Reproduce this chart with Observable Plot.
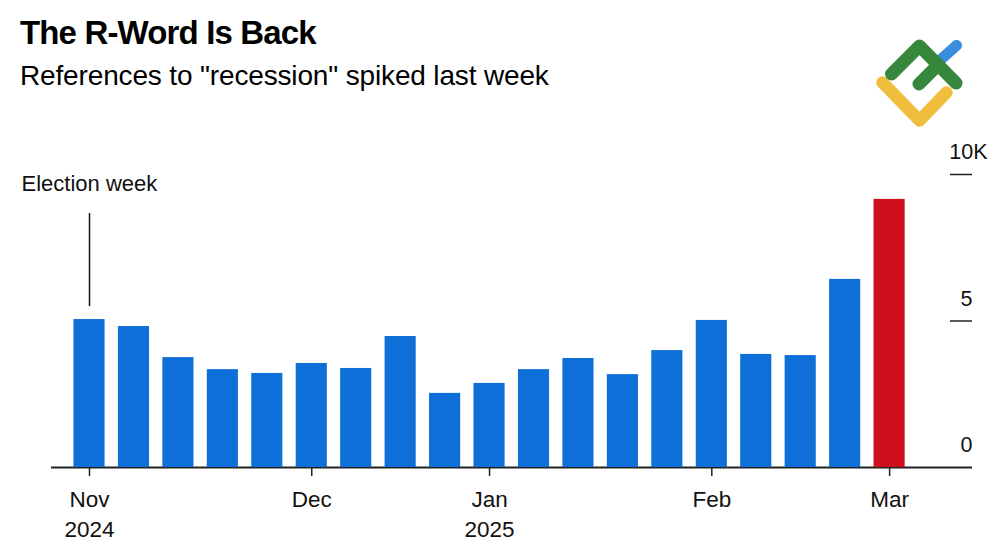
<!DOCTYPE html>
<html>
<head>
<meta charset="utf-8">
<script src="https://cdn.jsdelivr.net/npm/d3@7"></script>
<script src="https://cdn.jsdelivr.net/npm/@observablehq/plot@0.6"></script>
<style>
  html, body { margin: 0; padding: 0; background: #fff; width: 1000px; height: 545px; overflow: hidden; }
  body { position: relative; font-family: "Liberation Sans", Arial, sans-serif; color: #000; }
  #head { height: 120px; padding-left: 20px; box-sizing: border-box; }
  #title { position: absolute; left: 20px; top: 14px; font-size: 33px; font-weight: 700; letter-spacing: -0.85px; line-height: 38px; white-space: nowrap; }
  #subtitle { position: absolute; left: 20px; top: 59px; font-size: 28px; letter-spacing: -0.15px; line-height: 34px; white-space: nowrap; }
  #logo { position: absolute; left: 870px; top: 35px; z-index: 2; }
  #chart { position: absolute; left: 0; top: 120px; }
  svg { display: block; }
</style>
</head>
<body>
<div id="head">
  <div id="title">The R-Word Is Back</div>
  <div id="subtitle">References to "recession" spiked last week</div>
</div>
<svg id="logo" width="100" height="100" viewBox="870 35 100 100" fill="none" stroke-linecap="round" stroke-linejoin="round">
  <path d="M938 62 L956.5 45.5" stroke="#3a8ddc" stroke-width="11"/>
  <path d="M882.5 82.5 L919.5 120.5 L946.5 92.5" stroke="#efbe3c" stroke-width="12.5"/>
  <path d="M891.5 74 L919.5 46 L956 83" stroke="#36873c" stroke-width="13"/>
  <path d="M919 84 L938 65" stroke="#36873c" stroke-width="13"/>
</svg>
<div id="chart"></div>
<script>
const weeks = ["2024-11-01","2024-11-08","2024-11-15","2024-11-22","2024-11-29","2024-12-06","2024-12-13","2024-12-20","2024-12-27","2025-01-03","2025-01-10","2025-01-17","2025-01-24","2025-01-31","2025-02-07","2025-02-14","2025-02-21","2025-02-28","2025-03-07"];
const mentions = [5.05,4.81,3.75,3.34,3.21,3.55,3.38,4.47,2.53,2.87,3.34,3.72,3.17,3.99,5.02,3.86,3.82,6.42,9.15];
const monthTicks = ["2024-11-01","2024-12-06","2025-01-03","2025-02-07","2025-03-07"];
const monthLabels = ["Nov\n2024","Dec","Jan\n2025","Feb","Mar"];
const yTicks = [0,5,10];
const yLabels = ["0","5","10K"];
const electionWeek = "2024-11-01";
const electionSpan = [5.49,8.67];
const electionLabel = "Election week";
const electionLabelY = 9.69;
const latestWeek = "2025-03-07";
const BLUE = "#0f6fd8", RED = "#cf0f1b";

const table = weeks.map((w,i)=>({week:w,value:mentions[i]}));
const yRows = yTicks.map((v,i)=>({v,label:yLabels[i]}));

const plot = Plot.plot({
  width: 1000,
  height: 425,
  marginTop: 54,
  marginBottom: 78,
  marginLeft: 51,
  marginRight: 28,
  style: {fontFamily: '"Liberation Sans", Arial, sans-serif', background: "#fff", color: "#000"},
  x: {type: "band", domain: weeks, paddingInner: 0.3, paddingOuter: 1.01, align: 0.25, round: false},
  y: {domain: [0,10], axis: null},
  marks: [
    Plot.ruleY([0], {stroke: "#222", strokeWidth: 2}),
    Plot.barY(table, {x: "week", y: "value", fill: d => d.week === latestWeek ? RED : BLUE}),
    Plot.ruleY(yTicks.filter(v => v > 0), {stroke: "#222", strokeWidth: 1.5, insetLeft: 899}),
    Plot.text(yRows.filter(d => d.v < 10), {y: "v", text: "label", frameAnchor: "right", textAnchor: "end", fontSize: 21.5, dy: -22, fill: "#111"}),
    Plot.text(yRows.filter(d => d.v === 10), {y: "v", text: "label", frameAnchor: "right", textAnchor: "end", fontSize: 21.5, dx: 15, dy: -22, fill: "#111"}),
    Plot.ruleX([electionWeek], {x: d => d, y1: electionSpan[0], y2: electionSpan[1], stroke: "#111", strokeWidth: 1.5}),
    Plot.text([electionLabel], {x: () => electionWeek, y: () => electionLabelY, text: d => d, textAnchor: "start", dx: -68, fontSize: 22, fill: "#111"}),
    Plot.axisX({
      ticks: monthTicks,
      tickFormat: d => monthLabels[monthTicks.indexOf(d)],
      tickSize: 9,
      tickPadding: 10,
      stroke: "#222",
      strokeWidth: 1.5,
      fontSize: 22.5,
      lineHeight: 1.3,
      fill: "#111",
      label: null
    })
  ]
});
document.getElementById("chart").appendChild(plot);
</script>
</body>
</html>
